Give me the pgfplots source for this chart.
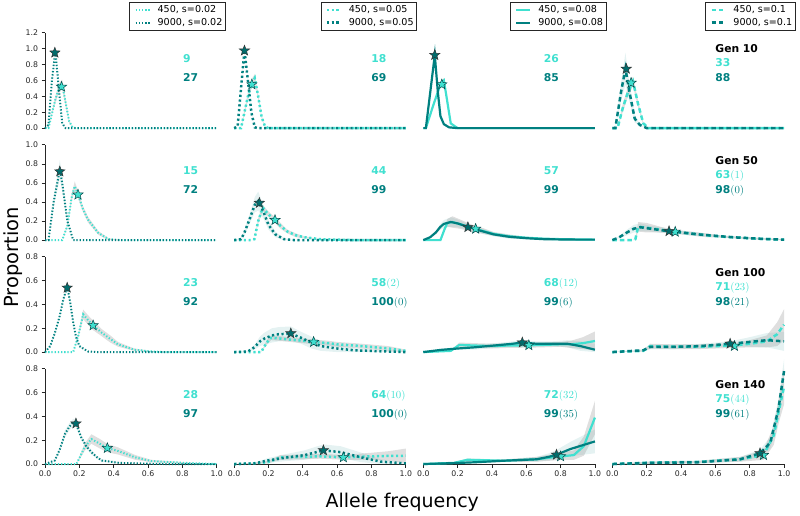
\documentclass[border=0pt]{standalone}
\usepackage{fontspec}
\setmainfont{DejaVu Sans}
\newfontfamily\lmr{Latin Modern Roman}
\usepackage{pgfplots}
\usepackage{pgfplotstable}
\pgfplotsset{compat=1.18}
\usepgfplotslibrary{fillbetween}

\definecolor{lite}{HTML}{40E0D0}
\definecolor{dark}{HTML}{008080}

% filled five-point star mark
\pgfdeclareplotmark{fstar}{%
  \pgfpathmoveto{\pgfpointpolar{90}{\pgfplotmarksize}}%
  \pgfpathlineto{\pgfpointpolar{126}{0.42\pgfplotmarksize}}%
  \pgfpathlineto{\pgfpointpolar{162}{\pgfplotmarksize}}%
  \pgfpathlineto{\pgfpointpolar{198}{0.42\pgfplotmarksize}}%
  \pgfpathlineto{\pgfpointpolar{234}{\pgfplotmarksize}}%
  \pgfpathlineto{\pgfpointpolar{270}{0.42\pgfplotmarksize}}%
  \pgfpathlineto{\pgfpointpolar{306}{\pgfplotmarksize}}%
  \pgfpathlineto{\pgfpointpolar{342}{0.42\pgfplotmarksize}}%
  \pgfpathlineto{\pgfpointpolar{18}{\pgfplotmarksize}}%
  \pgfpathlineto{\pgfpointpolar{54}{0.42\pgfplotmarksize}}%
  \pgfpathclose
  \pgfusepathqfillstroke}

% columns: x, mean proportion y, half width w of the band
% ---- Gen 10
\pgfplotstableread[row sep=\\]{x y w\\ 0 0 0\\ 0.02 0 0\\ 0.04 0.18 0.02\\ 0.06 0.36 0.04\\ 0.08 0.5 0.06\\ 0.1 0.55 0.06\\ 0.12 0.32 0.05\\ 0.14 0.09 0.02\\ 0.16 0.01 0\\ 0.18 0 0\\ 0.3 0 0\\ 1 0 0\\}\Laa
\pgfplotstableread[row sep=\\]{x y w\\ 0 0 0\\ 0.02 0.04 0.01\\ 0.04 0.6 0.02\\ 0.06 0.97 0.02\\ 0.08 0.5 0.02\\ 0.1 0.06 0.01\\ 0.12 0 0\\ 1 0 0\\}\Daa
\pgfplotstableread[row sep=\\]{x y w\\ 0 0 0\\ 0.04 0 0\\ 0.06 0.2 0.03\\ 0.08 0.4 0.05\\ 0.1 0.55 0.06\\ 0.12 0.63 0.05\\ 0.14 0.4 0.04\\ 0.16 0.14 0.02\\ 0.18 0.02 0\\ 0.2 0 0\\ 1 0 0\\}\Lab
\pgfplotstableread[row sep=\\]{x y w\\ 0 0 0\\ 0.02 0.02 0\\ 0.04 0.5 0.02\\ 0.06 0.98 0.02\\ 0.08 0.6 0.02\\ 0.1 0.2 0.01\\ 0.12 0.01 0\\ 0.14 0 0\\ 1 0 0\\}\Dab
\pgfplotstableread[row sep=\\]{x y w\\ 0 0 0\\ 0.015 0 0\\ 0.06 0.3 0.02\\ 0.1 0.55 0.03\\ 0.12 0.6 0.03\\ 0.135 0.4 0.02\\ 0.16 0.06 0.01\\ 0.2 0 0\\ 1 0 0\\}\Lac
\pgfplotstableread[row sep=\\]{x y w\\ 0 0 0\\ 0.015 0 0\\ 0.067 0.92 0.02\\ 0.085 0.45 0.02\\ 0.1 0.15 0.01\\ 0.12 0.05 0\\ 0.15 0.01 0\\ 0.2 0 0\\ 1 0 0\\}\Dac
\pgfplotstableread[row sep=\\]{x y w\\ 0 0 0\\ 0.03 0 0\\ 0.06 0.25 0.05\\ 0.09 0.45 0.06\\ 0.12 0.59 0.06\\ 0.15 0.3 0.04\\ 0.18 0.06 0.02\\ 0.21 0 0\\ 1 0 0\\}\Lad
\pgfplotstableread[row sep=\\]{x y w\\ 0 0 0\\ 0.017 0 0\\ 0.05 0.45 0.12\\ 0.076 0.75 0.2\\ 0.1 0.45 0.12\\ 0.13 0.12 0.05\\ 0.16 0.04 0.01\\ 0.2 0 0\\ 1 0 0\\}\Dad
% ---- Gen 50
\pgfplotstableread[row sep=\\]{x y w\\ 0 0 0\\ 0.1 0 0\\ 0.13 0.15 0.02\\ 0.155 0.45 0.04\\ 0.173 0.565 0.05\\ 0.192 0.48 0.04\\ 0.22 0.33 0.03\\ 0.25 0.215 0.03\\ 0.31 0.076 0.02\\ 0.37 0.01 0.01\\ 0.45 0 0\\ 1 0 0\\}\Lba
\pgfplotstableread[row sep=\\]{x y w\\ 0 0 0\\ 0.02 0 0\\ 0.05 0.4 0.05\\ 0.086 0.74 0.1\\ 0.1 0.6 0.08\\ 0.13 0.2 0.03\\ 0.164 0 0\\ 1 0 0\\}\Dba
\pgfplotstableread[row sep=\\]{x y w\\ 0 0 0\\ 0.1 0 0\\ 0.118 0.01 0\\ 0.14 0.2 0.03\\ 0.167 0.34 0.03\\ 0.2 0.27 0.03\\ 0.238 0.21 0.03\\ 0.27 0.15 0.03\\ 0.31 0.09 0.02\\ 0.36 0.05 0.02\\ 0.41 0.03 0.01\\ 0.5 0.01 0\\ 0.6 0.005 0\\ 0.7 0 0\\ 1 0 0\\}\Lbb
\pgfplotstableread[row sep=\\]{x y w\\ 0 0 0\\ 0.04 0.01 0.01\\ 0.06 0.08 0.03\\ 0.09 0.22 0.05\\ 0.12 0.37 0.08\\ 0.14 0.41 0.1\\ 0.17 0.3 0.07\\ 0.2 0.16 0.05\\ 0.24 0.06 0.03\\ 0.29 0.01 0.01\\ 0.35 0 0\\ 1 0 0\\}\Dbb
\pgfplotstableread[row sep=\\]{x y w\\ 0 0 0\\ 0.1 0 0\\ 0.125 0.12 0.02\\ 0.14 0.18 0.04\\ 0.17 0.19 0.06\\ 0.21 0.17 0.05\\ 0.26 0.14 0.04\\ 0.305 0.118 0.03\\ 0.35 0.095 0.03\\ 0.41 0.065 0.02\\ 0.5 0.04 0.02\\ 0.6 0.025 0.01\\ 0.7 0.015 0.01\\ 0.8 0.01 0.005\\ 0.9 0.007 0.005\\ 1 0.005 0.005\\}\Lbc
\pgfplotstableread[row sep=\\]{x y w\\ 0 0 0\\ 0.04 0.03 0.01\\ 0.073 0.08 0.02\\ 0.1 0.14 0.03\\ 0.12 0.17 0.04\\ 0.16 0.19 0.05\\ 0.2 0.175 0.04\\ 0.26 0.14 0.03\\ 0.33 0.1 0.03\\ 0.41 0.06 0.02\\ 0.5 0.035 0.02\\ 0.6 0.02 0.01\\ 0.7 0.01 0.01\\ 0.8 0.007 0.005\\ 0.9 0.005 0.005\\ 1 0.005 0.005\\}\Dbc
\pgfplotstableread[row sep=\\]{x y w\\ 0 0 0\\ 0.12 0 0\\ 0.134 0.01 0.01\\ 0.15 0.14 0.05\\ 0.2 0.13 0.05\\ 0.28 0.11 0.03\\ 0.366 0.087 0.02\\ 0.45 0.07 0.02\\ 0.55 0.05 0.02\\ 0.65 0.035 0.01\\ 0.75 0.025 0.01\\ 0.85 0.015 0.01\\ 1 0.005 0.005\\}\Lbd
\pgfplotstableread[row sep=\\]{x y w\\ 0 0 0\\ 0.04 0.03 0.01\\ 0.085 0.08 0.03\\ 0.125 0.12 0.04\\ 0.163 0.135 0.04\\ 0.22 0.12 0.03\\ 0.28 0.105 0.03\\ 0.33 0.093 0.02\\ 0.4 0.08 0.02\\ 0.5 0.06 0.02\\ 0.6 0.045 0.01\\ 0.7 0.03 0.01\\ 0.8 0.02 0.01\\ 0.9 0.01 0.005\\ 1 0.005 0.005\\}\Dbd
% ---- Gen 100
\pgfplotstableread[row sep=\\]{x y w\\ 0 0 0\\ 0.164 0 0\\ 0.193 0.135 0.02\\ 0.222 0.317 0.04\\ 0.25 0.27 0.04\\ 0.28 0.224 0.04\\ 0.33 0.163 0.03\\ 0.38 0.11 0.03\\ 0.425 0.065 0.02\\ 0.52 0.02 0.01\\ 0.62 0.005 0.005\\ 0.7 0 0\\ 1 0 0\\}\Lca
\pgfplotstableread[row sep=\\]{x y w\\ 0 0 0\\ 0.03 0.05 0.01\\ 0.057 0.16 0.02\\ 0.085 0.3 0.02\\ 0.106 0.44 0.02\\ 0.129 0.55 0.02\\ 0.145 0.43 0.02\\ 0.164 0.25 0.02\\ 0.18 0.13 0.01\\ 0.2 0.05 0.01\\ 0.25 0.005 0\\ 0.3 0 0\\ 1 0 0\\}\Dca
\pgfplotstableread[row sep=\\]{x y w\\ 0 0 0\\ 0.157 0 0\\ 0.19 0.08 0.02\\ 0.215 0.12 0.02\\ 0.26 0.115 0.02\\ 0.31 0.107 0.02\\ 0.4 0.095 0.02\\ 0.463 0.085 0.02\\ 0.55 0.075 0.02\\ 0.6 0.065 0.02\\ 0.7 0.055 0.02\\ 0.8 0.043 0.02\\ 0.9 0.03 0.02\\ 1 0.01 0.01\\}\Lcb
\pgfplotstableread[row sep=\\]{x y w\\ 0 0 0\\ 0.08 0.005 0.005\\ 0.118 0.04 0.02\\ 0.15 0.09 0.04\\ 0.176 0.113 0.05\\ 0.22 0.14 0.06\\ 0.26 0.15 0.06\\ 0.33 0.155 0.06\\ 0.39 0.12 0.05\\ 0.45 0.08 0.05\\ 0.506 0.05 0.04\\ 0.6 0.03 0.03\\ 0.7 0.015 0.02\\ 0.85 0.007 0.01\\ 1 0 0\\}\Dcb
\pgfplotstableread[row sep=\\]{x y w\\ 0 0 0\\ 0.16 0.01 0.005\\ 0.21 0.06 0.02\\ 0.3 0.055 0.02\\ 0.4 0.05 0.02\\ 0.5 0.055 0.02\\ 0.615 0.057 0.02\\ 0.7 0.06 0.02\\ 0.8 0.065 0.02\\ 0.86 0.065 0.03\\ 0.93 0.075 0.05\\ 1 0.093 0.08\\}\Lcc
\pgfplotstableread[row sep=\\]{x y w\\ 0 0 0\\ 0.1 0.018 0.01\\ 0.2 0.03 0.01\\ 0.3 0.04 0.02\\ 0.373 0.05 0.02\\ 0.45 0.06 0.02\\ 0.52 0.07 0.02\\ 0.577 0.08 0.02\\ 0.66 0.07 0.02\\ 0.75 0.07 0.02\\ 0.84 0.07 0.03\\ 0.916 0.05 0.04\\ 1 0.02 0.05\\}\Dcc
\pgfplotstableread[row sep=\\]{x y w\\ 0 0 0\\ 0.18 0.01 0.005\\ 0.22 0.05 0.02\\ 0.35 0.045 0.02\\ 0.5 0.045 0.02\\ 0.6 0.05 0.02\\ 0.711 0.055 0.02\\ 0.8 0.07 0.03\\ 0.9 0.09 0.05\\ 0.96 0.15 0.1\\ 1 0.23 0.13\\}\Lcd
\pgfplotstableread[row sep=\\]{x y w\\ 0 0 0\\ 0.18 0.015 0.01\\ 0.22 0.043 0.02\\ 0.35 0.043 0.02\\ 0.51 0.05 0.02\\ 0.6 0.06 0.02\\ 0.686 0.07 0.02\\ 0.8 0.085 0.04\\ 0.9 0.1 0.06\\ 1 0.09 0.08\\}\Dcd
% ---- Gen 140
\pgfplotstableread[row sep=\\]{x y w\\ 0 0 0\\ 0.183 0 0\\ 0.21 0.08 0.02\\ 0.23 0.14 0.03\\ 0.27 0.21 0.04\\ 0.32 0.17 0.04\\ 0.363 0.134 0.035\\ 0.425 0.11 0.03\\ 0.525 0.056 0.02\\ 0.62 0.025 0.01\\ 0.81 0.01 0.005\\ 1 0 0\\}\Lda
\pgfplotstableread[row sep=\\]{x y w\\ 0 0 0\\ 0.057 0.03 0.01\\ 0.085 0.12 0.02\\ 0.115 0.25 0.03\\ 0.14 0.31 0.03\\ 0.164 0.35 0.03\\ 0.18 0.34 0.03\\ 0.212 0.22 0.02\\ 0.24 0.15 0.02\\ 0.27 0.1 0.02\\ 0.3 0.06 0.01\\ 0.33 0.03 0.01\\ 0.43 0.01 0.005\\ 0.55 0.005 0\\ 0.7 0 0\\ 1 0 0\\}\Dda
\pgfplotstableread[row sep=\\]{x y w\\ 0 0 0\\ 0.1 0.005 0.005\\ 0.196 0.015 0.01\\ 0.27 0.056 0.02\\ 0.4 0.06 0.02\\ 0.5 0.065 0.02\\ 0.636 0.056 0.02\\ 0.8 0.065 0.03\\ 0.9 0.068 0.04\\ 1 0.07 0.06\\}\Ldb
\pgfplotstableread[row sep=\\]{x y w\\ 0 0 0\\ 0.118 0.005 0.005\\ 0.196 0.03 0.02\\ 0.31 0.056 0.03\\ 0.41 0.075 0.04\\ 0.52 0.115 0.05\\ 0.62 0.1 0.05\\ 0.74 0.056 0.04\\ 0.855 0.02 0.02\\ 1 0.005 0.01\\}\Ddb
\pgfplotstableread[row sep=\\]{x y w\\ 0 0 0\\ 0.18 0.01 0.005\\ 0.257 0.036 0.01\\ 0.47 0.028 0.01\\ 0.66 0.04 0.02\\ 0.8 0.064 0.03\\ 0.877 0.075 0.04\\ 0.935 0.15 0.08\\ 1 0.39 0.14\\}\Ldc
\pgfplotstableread[row sep=\\]{x y w\\ 0 0 0\\ 0.18 0.008 0.005\\ 0.3 0.015 0.01\\ 0.47 0.028 0.01\\ 0.66 0.04 0.02\\ 0.73 0.06 0.03\\ 0.776 0.078 0.04\\ 0.857 0.126 0.06\\ 1 0.19 0.1\\}\Ddc
\pgfplotstableread[row sep=\\]{x y w\\ 0 0 0\\ 0.22 0.012 0.01\\ 0.5 0.018 0.01\\ 0.744 0.04 0.02\\ 0.88 0.075 0.04\\ 0.94 0.24 0.08\\ 0.97 0.45 0.1\\ 1 0.65 0.15\\}\Ldd
\pgfplotstableread[row sep=\\]{x y w\\ 0 0 0\\ 0.22 0.01 0.01\\ 0.5 0.015 0.01\\ 0.744 0.04 0.02\\ 0.86 0.09 0.03\\ 0.92 0.18 0.05\\ 0.967 0.46 0.08\\ 1 0.78 0.1\\}\Ddd

\pgfplotsset{
  pan/.style={scale only axis, width=172pt, height=95.5pt,
    xmin=0, xmax=1, ymin=0, clip=false, anchor=south west,
    axis line style={-, black!85, line width=0.8pt},
    every outer x axis line/.append style={-}, every outer y axis line/.append style={-},
    tick align=outside, major tick length=3.5pt,
    tick style={black!85, line width=0.7pt},
    ticklabel style={font=\fontsize{7.8}{8}\selectfont, text=black!85},
    xtick={0,0.2,0.4,0.6,0.8,1.0},
    /pgf/number format/assume math mode=true,
    /pgf/number format/fixed, /pgf/number format/fixed zerofill,
    /pgf/number format/precision=1,
    legend cell align=left,
    legend style={anchor=north east, font=\fontsize{9.6}{10}\selectfont,
      draw=black!85, line width=0.7pt, inner xsep=1pt, inner ysep=1.5pt},
    legend image code/.code={\path[draw=none] (0pt,0pt) -- (25pt,0pt);
      \draw[##1] (5pt,0pt) -- (19pt,0pt);},
  },
  r1/.style={ymax=1.2, ytick={0,0.2,0.4,0.6,0.8,1.0,1.2}},
  r2/.style={ymax=1.0, ytick={0,0.2,0.4,0.6,0.8,1.0}},
  r3/.style={ymax=0.8, ytick={0,0.2,0.4,0.6,0.8}},
  lefty/.style={axis y line*=left},
  botx/.style={axis x line*=bottom},
  nox/.style={hide x axis},
  noy/.style={hide y axis},
}
\tikzset{
  s1/.style={line width=2pt, line cap=butt, dash pattern=on 1.3pt off 1.9pt},
  s2/.style={line width=2.5pt, line cap=butt, dash pattern=on 2.2pt off 2.6pt},
  s3/.style={line width=2.2pt, solid},
  s4/.style={line width=2.5pt, line cap=butt, dash pattern=on 4.5pt off 3pt},
  numtxt/.style={anchor=base west, inner sep=0pt, font=\fontsize{10.8}{12}\selectfont\bfseries},
}

\newcommand\curves[5]{%
  \addplot[name path=bhi, draw=none, forget plot] table[x=x, y expr={\thisrow{y}+\thisrow{w}}]{#2};
  \addplot[name path=blo, draw=none, forget plot] table[x=x, y expr={max(\thisrow{y}-\thisrow{w},0)}]{#2};
  \addplot[fill=dark, fill opacity=0.1, draw=none, forget plot] fill between[of=bhi and blo];
  \addplot[name path=ahi, draw=none, forget plot] table[x=x, y expr={\thisrow{y}+\thisrow{w}}]{#1};
  \addplot[name path=alo, draw=none, forget plot] table[x=x, y expr={max(\thisrow{y}-\thisrow{w},0)}]{#1};
  \addplot[fill=gray, fill opacity=0.25, draw=none, forget plot] fill between[of=ahi and alo];
  \addplot[lite, #3] table[x=x, y=y]{#1};
  \addplot[dark, #3] table[x=x, y=y]{#2};
  \addplot[only marks, forget plot, mark=fstar, mark size=5.4pt,
    mark options={solid, fill=lite, draw=dark!55!black, line width=0.5pt}] coordinates {#4};
  \addplot[only marks, forget plot, mark=fstar, mark size=5.4pt,
    mark options={solid, fill=dark!85!black, draw=black!80, line width=0.5pt}] coordinates {#5};
}
\newcommand\nums[3]{%
  \node[numtxt, text=lite] at (rel axis cs:#1,0.692) {#2};
  \node[numtxt, text=dark] at (rel axis cs:#1,0.486) {#3};}
\newcommand\gnums[3]{%
  \node[numtxt, text=black] at (rel axis cs:0.599,0.797) {Gen #1};
  \node[numtxt, text=lite] at (rel axis cs:0.599,0.643) {#2};
  \node[numtxt, text=dark] at (rel axis cs:0.599,0.486) {#3};}
\newcommand\p[1]{{\lmr\mdseries(#1)}}

\begin{document}
\begin{tikzpicture}
\path (0,0) rectangle (800pt,516pt);

% ===== row 1: Gen 10
\begin{axis}[pan, r1, lefty, nox, at={(43.5pt,387.6pt)}, legend style={at={(1.053,1.324)}}]
\curves{\Laa}{\Daa}{s1}{(0.096,0.52)}{(0.057,0.95)}
\legend{{450, s=0.02},{9000, s=0.02}}
\nums{0.803}{9}{27}
\end{axis}
\begin{axis}[pan, r1, nox, noy, at={(233pt,387.6pt)}, legend style={at={(1.065,1.324)}}]
\curves{\Lab}{\Dab}{s2}{(0.103,0.55)}{(0.06,0.976)}
\legend{{450, s=0.05},{9000, s=0.05}}
\nums{0.798}{18}{69}
\end{axis}
\begin{axis}[pan, r1, nox, noy, at={(422.5pt,387.6pt)}, legend style={at={(1.067,1.324)}}]
\curves{\Lac}{\Dac}{s3}{(0.108,0.55)}{(0.067,0.92)}
\legend{{450, s=0.08},{9000, s=0.08}}
\nums{0.702}{26}{85}
\end{axis}
\begin{axis}[pan, r1, nox, noy, at={(612pt,387.6pt)}, legend style={at={(1.067,1.324)}}]
\curves{\Lad}{\Dad}{s4}{(0.109,0.57)}{(0.081,0.746)}
\legend{{450, s=0.1},{9000, s=0.1}}
\gnums{10}{33}{88}
\end{axis}

% ===== row 2: Gen 50
\begin{axis}[pan, r2, lefty, nox, at={(43.5pt,275.4pt)}]
\curves{\Lba}{\Dba}{s1}{(0.192,0.477)}{(0.086,0.72)}
\nums{0.803}{15}{72}
\end{axis}
\begin{axis}[pan, r2, nox, noy, at={(233pt,275.4pt)}]
\curves{\Lbb}{\Dbb}{s2}{(0.238,0.21)}{(0.147,0.39)}
\nums{0.798}{44}{99}
\end{axis}
\begin{axis}[pan, r2, nox, noy, at={(422.5pt,275.4pt)}]
\curves{\Lbc}{\Dbc}{s3}{(0.305,0.118)}{(0.26,0.135)}
\nums{0.702}{57}{99}
\end{axis}
\begin{axis}[pan, r2, nox, noy, at={(612pt,275.4pt)}]
\curves{\Lbd}{\Dbd}{s4}{(0.366,0.087)}{(0.33,0.093)}
\gnums{50}{63\p{1}}{98\p{0}}
\end{axis}

% ===== row 3: Gen 100
\begin{axis}[pan, r3, lefty, nox, at={(43.5pt,163.2pt)}]
\curves{\Lca}{\Dca}{s1}{(0.28,0.224)}{(0.129,0.54)}
\nums{0.803}{23}{92}
\end{axis}
\begin{axis}[pan, r3, nox, noy, at={(233pt,163.2pt)}]
\curves{\Lcb}{\Dcb}{s2}{(0.463,0.085)}{(0.33,0.157)}
\nums{0.798}{58\p{2}}{100\p{0}}
\end{axis}
\begin{axis}[pan, r3, nox, noy, at={(422.5pt,163.2pt)}]
\curves{\Lcc}{\Dcc}{s3}{(0.615,0.057)}{(0.577,0.08)}
\nums{0.702}{68\p{12}}{99\p{6}}
\end{axis}
\begin{axis}[pan, r3, nox, noy, at={(612pt,163.2pt)}]
\curves{\Lcd}{\Dcd}{s4}{(0.711,0.051)}{(0.686,0.07)}
\gnums{100}{71\p{23}}{98\p{21}}
\end{axis}

% ===== row 4: Gen 140
\begin{axis}[pan, r3, lefty, botx, at={(43.5pt,51pt)}]
\curves{\Lda}{\Dda}{s1}{(0.363,0.134)}{(0.18,0.34)}
\nums{0.803}{28}{97}
\end{axis}
\begin{axis}[pan, r3, botx, noy, at={(233pt,51pt)}]
\curves{\Ldb}{\Ddb}{s2}{(0.636,0.056)}{(0.52,0.115)}
\nums{0.798}{64\p{10}}{100\p{0}}
\end{axis}
\begin{axis}[pan, r3, botx, noy, at={(422.5pt,51pt)}]
\curves{\Ldc}{\Ddc}{s3}{(0.8,0.064)}{(0.776,0.078)}
\nums{0.702}{72\p{32}}{99\p{35}}
\end{axis}
\begin{axis}[pan, r3, botx, noy, at={(612pt,51pt)}]
\curves{\Ldd}{\Ddd}{s4}{(0.88,0.075)}{(0.86,0.09)}
\gnums{140}{75\p{44}}{99\p{61}}
\end{axis}

\node[rotate=90, anchor=base, font=\fontsize{19.5}{21}\selectfont] at (16.5pt,258pt) {Proportion};
\node[anchor=base, font=\fontsize{19}{21}\selectfont] at (401.5pt,7pt) {Allele frequency};
\end{tikzpicture}
\end{document}
